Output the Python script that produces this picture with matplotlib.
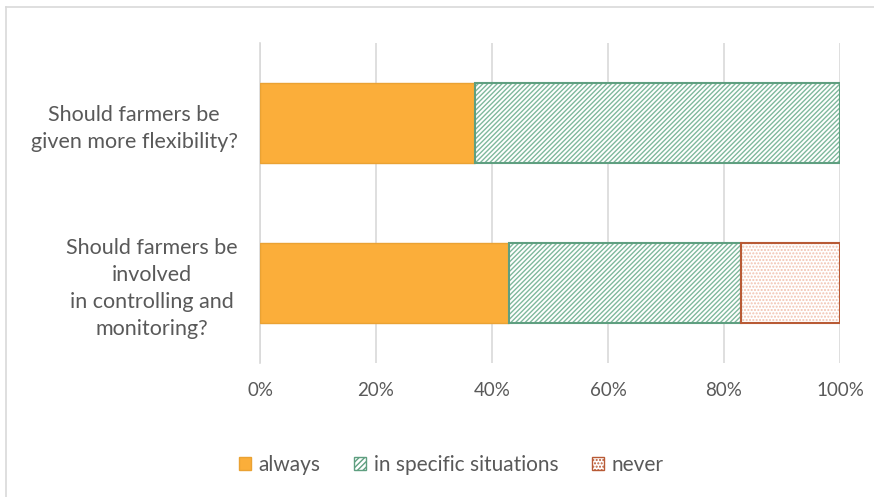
import numpy as np
import matplotlib.pyplot as plt
from matplotlib.patches import Patch
from matplotlib.ticker import PercentFormatter

# Data (share of answers, %)
questions = ['Should farmers be\ninvolved\nin controlling and\nmonitoring?',
             'Should farmers be\ngiven more flexibility?']
always = [42.9, 37.1]
specific = [40.0, 62.9]
never = [17.1, 0.0]
x_ticks = [0, 20, 40, 60, 80, 100]

plt.rcParams['font.family'] = ['Lato', 'DejaVu Sans']
txt = '#595959'
grid_c = '#d9d9d9'
orange = '#fbae3a'
green_edge = '#5f9f80'
red_edge = '#b85a35'

fig = plt.figure(figsize=(8.74, 4.97), dpi=100)
ax = fig.add_axes([260 / 874, 1 - 363 / 497, 580 / 874, 320 / 497])

y = np.arange(len(questions))
h = 0.5
left2 = np.array(always)
left3 = left2 + np.array(specific)

ax.barh(y, always, h, color=orange, edgecolor='#eaa233', linewidth=1, zorder=3)
# hatched layer + separate border so the hatch can be lighter than the outline
ax.barh(y, specific, h, left=left2, color='white', edgecolor='#7fb89c',
        hatch='///////', linewidth=0, zorder=3)
ax.barh(y, specific, h, left=left2, fill=False, edgecolor=green_edge,
        linewidth=1.5, zorder=4)
nv = np.array(never)
mask = nv > 0
ax.barh(y[mask], nv[mask], h, left=left3[mask], color='white', edgecolor='#f1c2b0',
        hatch='.....', linewidth=0, zorder=3)
ax.barh(y[mask], nv[mask], h, left=left3[mask], fill=False, edgecolor=red_edge,
        linewidth=1.5, zorder=4)

ax.set_xlim(0, 100)
ax.set_ylim(-0.5, 1.5)
ax.set_xticks(x_ticks)
ax.xaxis.set_major_formatter(PercentFormatter(decimals=0))
ax.set_yticks(y)
ax.set_yticklabels(questions, multialignment='center', fontsize=15.5, linespacing=1.45)
ax.tick_params(length=0, colors=txt)
ax.tick_params(axis='x', pad=14, labelsize=13.5)
ax.tick_params(axis='y', pad=16)
ax.grid(axis='x', color=grid_c, linewidth=1.2, zorder=0)
for s in ['top', 'right', 'bottom']:
    ax.spines[s].set_visible(False)
ax.spines['left'].set_color(grid_c)
ax.spines['left'].set_linewidth(1.2)
ax.set_axisbelow(True)

handles = [
    Patch(facecolor=orange, edgecolor='#eaa233', label='always'),
    Patch(facecolor='white', edgecolor=green_edge, hatch='//////', label='in specific situations'),
    Patch(facecolor='white', edgecolor=red_edge, hatch='.....', label='never'),
]
fig.legend(handles=handles, loc='center', bbox_to_anchor=(451 / 874, 1 - 465 / 497),
           ncol=3, frameon=False, fontsize=15, labelcolor=txt,
           handlelength=0.6, handleheight=0.6, handletextpad=0.35, columnspacing=1.6)

# outer chart border (left and top visible)
fig.add_artist(plt.Line2D([6 / 874, 6 / 874], [0, 1 - 7 / 497], transform=fig.transFigure,
                          color=grid_c, linewidth=1.2))
fig.add_artist(plt.Line2D([6 / 874, 1], [1 - 7 / 497, 1 - 7 / 497], transform=fig.transFigure,
                          color=grid_c, linewidth=1.2))

fig.savefig('out.png', dpi=100)
